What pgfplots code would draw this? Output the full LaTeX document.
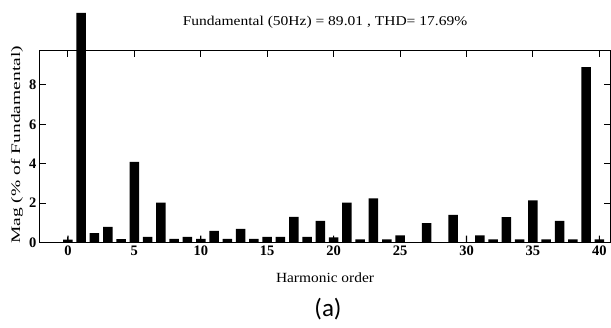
\documentclass[border=0pt]{standalone}
\usepackage{pgfplots}
\pgfplotsset{compat=1.18}
\usepackage{fontspec}
\setmainfont{Liberation Serif}
\newfontfamily\capfont{Carlito}
\begin{document}
\begin{tikzpicture}
\begin{axis}[
  scale only axis,
  width=570pt, height=191.5pt,
  xmin=-2.1, xmax=40.8,
  ymin=0, ymax=9.72,
  clip=false,
  axis lines=box,
  axis line style={line width=1pt, black},
  tick style={line width=0.9pt, black},
  major tick length=6pt,
  tick align=inside,
  xtick pos=both, ytick pos=both,
  xtick={0,5,...,40},
  ytick={0,2,4,6,8},
  xticklabel={\textbf{\pgfmathprintnumber[assume math mode=true]{\tick}}},
  yticklabel={\textbf{\pgfmathprintnumber[assume math mode=true]{\tick}}},
  ticklabel style={font=\fontsize{14.5}{16}\selectfont},
  title={\scalebox{1.15}[1]{Fundamental (50Hz) = 89.01 , THD= 17.69\%}},
  title style={font=\fontsize{13.5}{15}\selectfont, at={(axis description cs:0.5,1.12)}, anchor=center},
  xlabel={\scalebox{1.1}[1]{Harmonic order}},
  xlabel style={font=\fontsize{14}{16}\selectfont, at={(axis description cs:0.5,-0.185)}, anchor=center},
  ylabel={\scalebox{1.5}[1]{Mag (\% of Fundamental)}},
  ylabel style={font=\fontsize{13}{15}\selectfont, at={(axis description cs:-0.0404,0.51)}, anchor=center},
]
\addplot[ybar, bar width=9.5pt, bar shift=0pt, fill=black, draw=none] coordinates {
(0,0.15) (1,11.65) (2,0.47) (3,0.79) (4,0.17) (5,4.09) (6,0.29) (7,2.02) (8,0.18) (9,0.29)
(10,0.18) (11,0.59) (12,0.18) (13,0.69) (14,0.18) (15,0.28) (16,0.28) (17,1.3) (18,0.28) (19,1.1)
(20,0.26) (21,2.03) (22,0.16) (23,2.24) (24,0.16) (25,0.36) (26,0) (27,0.98) (28,0) (29,1.4)
(30,0) (31,0.36) (32,0.16) (33,1.29) (34,0.16) (35,2.14) (36,0.16) (37,1.1) (38,0.16) (39,8.9) (40,0.16)
};
\addplot[ybar, bar width=1.2pt, bar shift=0pt, fill=black, draw=none] coordinates {
(0,0.35) (10,0.35) (20,0.35) (30,0.35) (40,0.35)
};
\coordinate (SW) at (rel axis cs:0,0);
\draw[line width=1pt] (rel axis cs:0,0) rectangle (rel axis cs:1,1);
\node[font=\capfont\fontsize{25}{28}\selectfont, anchor=center] at ([xshift=288pt,yshift=-66.5pt]rel axis cs:0,0) {(a)};
\end{axis}
\pgfresetboundingbox
\useasboundingbox ([shift={(-40pt,-84.5pt)}]SW) rectangle ([shift={(571pt,242.5pt)}]SW);
\end{tikzpicture}
\end{document}
